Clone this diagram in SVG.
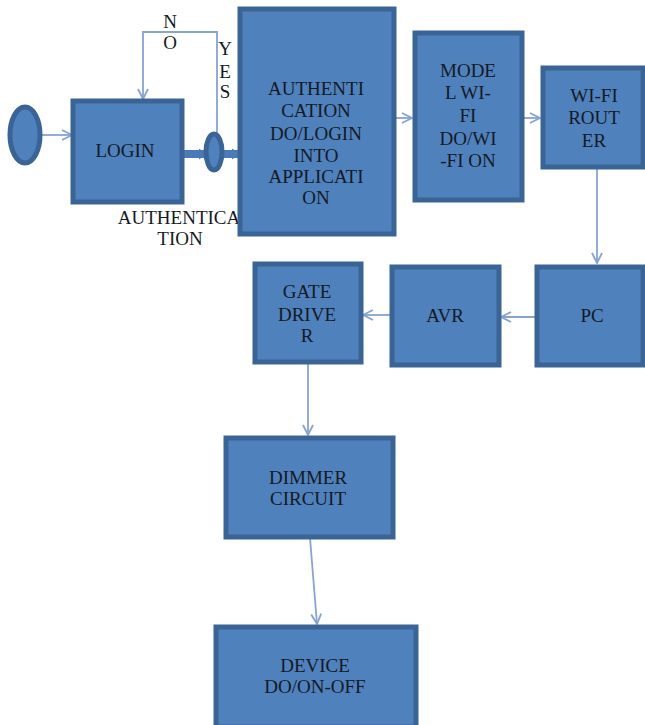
<svg xmlns="http://www.w3.org/2000/svg" width="645" height="725" viewBox="0 0 645 725">
<style>
.box{fill:#4f81bd;stroke:#3b6496;stroke-width:5}
text{font-family:'Liberation Serif',serif;font-size:19px;fill:#141a24;text-anchor:middle}
.c{fill:none;stroke:#86a3d4;stroke-width:1.8}
.thick{fill:none;stroke:#4a7bb8;stroke-width:8}
</style>
<defs>
<marker id="open" viewBox="0 0 12 12" refX="11" refY="6" markerWidth="12" markerHeight="12" markerUnits="userSpaceOnUse" orient="auto">
<path d="M1,1 L11,6 L1,11" fill="none" stroke="#86a3d4" stroke-width="1.8"/>
</marker>
<marker id="solid" viewBox="0 0 10 14" refX="9" refY="7" markerWidth="8" markerHeight="14" markerUnits="userSpaceOnUse" orient="auto">
<path d="M0,0 L10,7 L0,14 Z" fill="#4a7bb8"/>
</marker>
</defs>
<rect width="645" height="725" fill="#ffffff"/>
<g id="connectors">
<line class="c" x1="42" y1="135" x2="72" y2="135" marker-end="url(#open)"/>
<polyline class="c" points="217,133 217,32 143,32 143,99" marker-end="url(#open)"/>
<line class="thick" x1="182" y1="154" x2="206" y2="154" marker-end="url(#solid)"/>
<line class="thick" x1="222" y1="154" x2="239" y2="154" marker-end="url(#solid)"/>
<line class="c" x1="395" y1="118" x2="412" y2="118" marker-end="url(#open)"/>
<line class="c" x1="523" y1="118" x2="540" y2="118" marker-end="url(#open)"/>
<line class="c" x1="597" y1="168" x2="597" y2="263" marker-end="url(#open)"/>
<line class="c" x1="535" y1="317" x2="501" y2="317" marker-end="url(#open)"/>
<line class="c" x1="390" y1="315" x2="363" y2="315" marker-end="url(#open)"/>
<line class="c" x1="308" y1="363" x2="308" y2="435" marker-end="url(#open)"/>
<line class="c" x1="310" y1="538" x2="317" y2="624" marker-end="url(#open)"/>
</g>
<g id="start"><ellipse cx="25" cy="135" rx="15" ry="28" class="box"/></g>
<g id="login"><rect x="73" y="101" width="109" height="101" class="box"/><text x="125" y="157">LOGIN</text></g>
<g id="decision"><ellipse cx="214" cy="152" rx="8" ry="18" class="box" stroke-width="4"/></g>
<g id="labels">
<text x="170" y="28">N</text>
<text x="170" y="49">O</text>
<text x="225" y="55">Y</text>
<text x="225" y="78">E</text>
<text x="225" y="98">S</text>
<text x="179" y="224">AUTHENTICA</text>
<text x="180" y="245">TION</text>
</g>
<g id="auth"><rect x="240" y="9" width="154" height="225" class="box"/>
<text x="316" y="95">AUTHENTI</text>
<text x="316" y="117">CATION</text>
<text x="316" y="140">DO/LOGIN</text>
<text x="316" y="162">INTO</text>
<text x="316" y="183">APPLICATI</text>
<text x="316" y="204">ON</text>
</g>
<g id="model"><rect x="415" y="33" width="107" height="167" class="box"/>
<text x="468" y="77">MODE</text>
<text x="468" y="99">L WI-</text>
<text x="468" y="122">FI</text>
<text x="468" y="145">DO/WI</text>
<text x="468" y="167">-FI ON</text>
</g>
<g id="router"><rect x="543" y="68" width="100" height="99" class="box"/>
<text x="594" y="102">WI-FI</text>
<text x="594" y="124">ROUT</text>
<text x="594" y="147">ER</text>
</g>
<g id="pc"><rect x="537" y="267" width="106" height="98" class="box"/><text x="592" y="322">PC</text></g>
<g id="avr"><rect x="392" y="267" width="107" height="98" class="box"/><text x="445" y="322">AVR</text></g>
<g id="gate"><rect x="255" y="264" width="106" height="98" class="box"/>
<text x="307" y="298">GATE</text>
<text x="307" y="321">DRIVE</text>
<text x="307" y="342">R</text>
</g>
<g id="dimmer"><rect x="226" y="438" width="167" height="99" class="box"/>
<text x="308" y="484">DIMMER</text>
<text x="308" y="505">CIRCUIT</text>
</g>
<g id="device"><rect x="216" y="627" width="200" height="100" class="box"/>
<text x="315" y="672">DEVICE</text>
<text x="315" y="693">DO/ON-OFF</text>
</g>
</svg>
